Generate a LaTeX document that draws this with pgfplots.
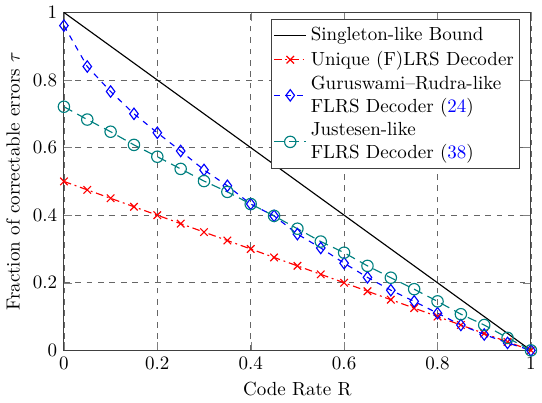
\documentclass[border=0pt]{standalone}
\usepackage{pgfplots}
\pgfplotsset{compat=1.18}
\begin{document}
\begin{tikzpicture}
\begin{axis}[
  scale only axis,
  width=246pt, height=178pt,
  xmin=0, xmax=1, ymin=0, ymax=1,
  xtick={0,0.2,...,1}, ytick={0,0.2,...,1},
  axis line style={black!75, semithick},
  grid=major,
  major grid style={dashed, gray!80!black, thin},
  xlabel={Code Rate R},
  ylabel={Fraction of correctable errors $\tau$},
  legend style={at={(0.977,0.98)}, anchor=north east, cells={align=left}, draw=black!75, semithick, inner xsep=1pt},
  legend cell align=left,
]
% Singleton-like bound
\addplot[black, semithick] coordinates {(0,1) (1,0)};
\addlegendentry{Singleton-like Bound}

% Unique (F)LRS decoder
\addplot[red, semithick, dash pattern=on 4pt off 2pt on 1pt off 2pt, mark=x, mark size=2.8pt, mark options={solid}] coordinates {
(0,0.5) (0.05,0.475) (0.1,0.45) (0.15,0.425) (0.2,0.4) (0.25,0.375) (0.3,0.35)
(0.35,0.325) (0.4,0.3) (0.45,0.275) (0.5,0.25) (0.55,0.225) (0.6,0.2)
(0.65,0.175) (0.7,0.15) (0.75,0.125) (0.8,0.1) (0.85,0.075) (0.9,0.05)
(0.95,0.025) (1,0)
};
\addlegendentry{Unique (F)LRS Decoder}

% Guruswami-Rudra-like
\addplot[blue, semithick, dashed, mark=diamond, mark size=3pt, mark options={solid}] coordinates {
(0,0.961) (0.05,0.84) (0.1,0.766) (0.15,0.70) (0.2,0.644) (0.25,0.59) (0.3,0.534)
(0.35,0.487) (0.4,0.433) (0.45,0.398) (0.5,0.344) (0.55,0.303) (0.6,0.258)
(0.65,0.216) (0.7,0.178) (0.75,0.145) (0.8,0.11) (0.85,0.075) (0.9,0.047)
(0.95,0.022) (1,0)
};
\addlegendentry{Guruswami--Rudra-like\\FLRS Decoder (\textcolor{blue}{24})}

% Justesen-like
\addplot[teal, semithick, dash pattern=on 5pt off 3pt, mark=o, mark size=3pt, mark options={solid}] coordinates {
(0,0.721) (0.05,0.683) (0.1,0.647) (0.15,0.608) (0.2,0.573) (0.25,0.537) (0.3,0.501)
(0.35,0.469) (0.4,0.433) (0.45,0.398) (0.5,0.36) (0.55,0.322) (0.6,0.289)
(0.65,0.25) (0.7,0.215) (0.75,0.181) (0.8,0.145) (0.85,0.107) (0.9,0.075)
(0.95,0.037) (1,0)
};
\addlegendentry{Justesen-like\\FLRS Decoder (\textcolor{blue}{38})}
\end{axis}
\end{tikzpicture}
\end{document}
